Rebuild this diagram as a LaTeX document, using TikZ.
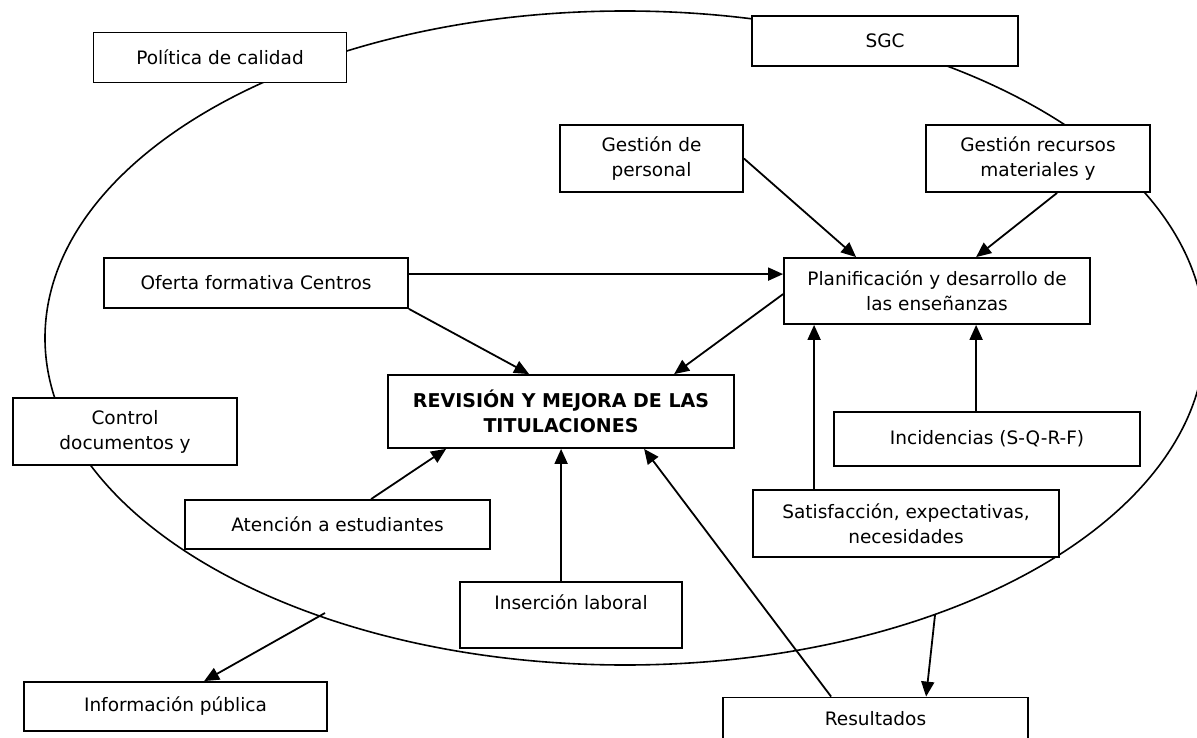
\documentclass[tikz,border=0pt]{standalone}
\usepackage{fontspec}
\setmainfont{DejaVu Sans}
\usetikzlibrary{arrows.meta,calc}
\begin{document}
\begin{tikzpicture}[x=1pt,y=-1pt,
  box/.style={draw,fill=white,line width=1.8pt,inner sep=0pt,align=center,
    font=\fontsize{18.5}{25}\selectfont},
  conn/.style={line width=1.8pt,-{Triangle[length=15pt,width=13pt]}},
  plain/.style={line width=1.6pt}]
\clip (0,0) rectangle (1197,738);
\fill[white] (0,0) rectangle (1197,738);
\draw[plain] (625,338) ellipse [x radius=580pt, y radius=327pt];
\node[box,minimum width=253pt,minimum height=50pt] (pol) at (220,57.5) {Política de calidad};
\node[box,minimum width=266pt,minimum height=50pt] (sgc) at (885,41) {SGC};
\node[box,minimum width=183pt,minimum height=67pt] (gp) at (651.5,158.5) {Gestión de\\personal};
\node[box,minimum width=224pt,minimum height=67pt] (gr) at (1038,158.5) {Gestión recursos\\materiales y};
\node[box,minimum width=304pt,minimum height=50pt] (of) at (256,283) {Oferta formativa Centros};
\node[box,minimum width=306pt,minimum height=66pt] (plan) at (937,291) {Planificación y desarrollo de\\las enseñanzas};
\node[box,minimum width=346pt,minimum height=73pt,font=\bfseries\fontsize{19}{25}\selectfont] (rev) at (561,411.5) {REVISIÓN Y MEJORA DE LAS\\TITULACIONES};
\node[box,minimum width=224pt,minimum height=67pt] (ctrl) at (125,431.5) {Control\\documentos y};
\node[box,minimum width=306pt,minimum height=54pt] (inc) at (987,439) {Incidencias (S-Q-R-F)};
\node[box,minimum width=305pt,minimum height=49pt] (at) at (337.5,524.5) {Atención a estudiantes};
\node[box,minimum width=306pt,minimum height=67pt] (sat) at (906,523.5) {Satisfacción, expectativas,\\necesidades};
\node[box,minimum width=222pt,minimum height=66pt] (ins) at (571,615) {Inserción laboral\\\mbox{}};
\node[box,minimum width=303pt,minimum height=49pt] (info) at (175.5,706.5) {Información pública};
\node[box,minimum width=305pt,minimum height=67pt] (res) at (875.5,731) {Resultados\\\mbox{}};
\coordinate (e1) at (325,613);
\coordinate (e2) at (935,615);
\draw[conn] (gp.east) -- ($(plan.north west)+(73,0)$);
\draw[conn] ($(gr.south west)+(132,0)$) -- ($(plan.north west)+(193,0)$);
\draw[conn] ($(of.north east)+(0,17)$) -- ($(plan.north west)+(0,17)$);
\draw[conn] (of.south east) -- ($(rev.north west)+(142,0)$);
\draw[conn] ($(plan.north west)+(0,37)$) -- ($(rev.north west)+(287,0)$);
\draw[conn] ($(at.north west)+(187,0)$) -- ($(rev.south west)+(59,0)$);
\draw[conn] ($(ins.north west)+(102,0)$) -- ($(rev.south west)+(174,0)$);
\draw[conn] ($(res.north west)+(109,0)$) -- ($(rev.south west)+(257,0)$);
\draw[conn] ($(sat.north west)+(62,0)$) -- ($(plan.south west)+(31,0)$);
\draw[conn] ($(inc.north west)+(143,0)$) -- ($(plan.south west)+(193,0)$);
\draw[conn] (e1) -- ($(info.north west)+(181,0)$);
\draw[conn] (e2) -- ($(res.north west)+(204,0)$);
\end{tikzpicture}
\end{document}
